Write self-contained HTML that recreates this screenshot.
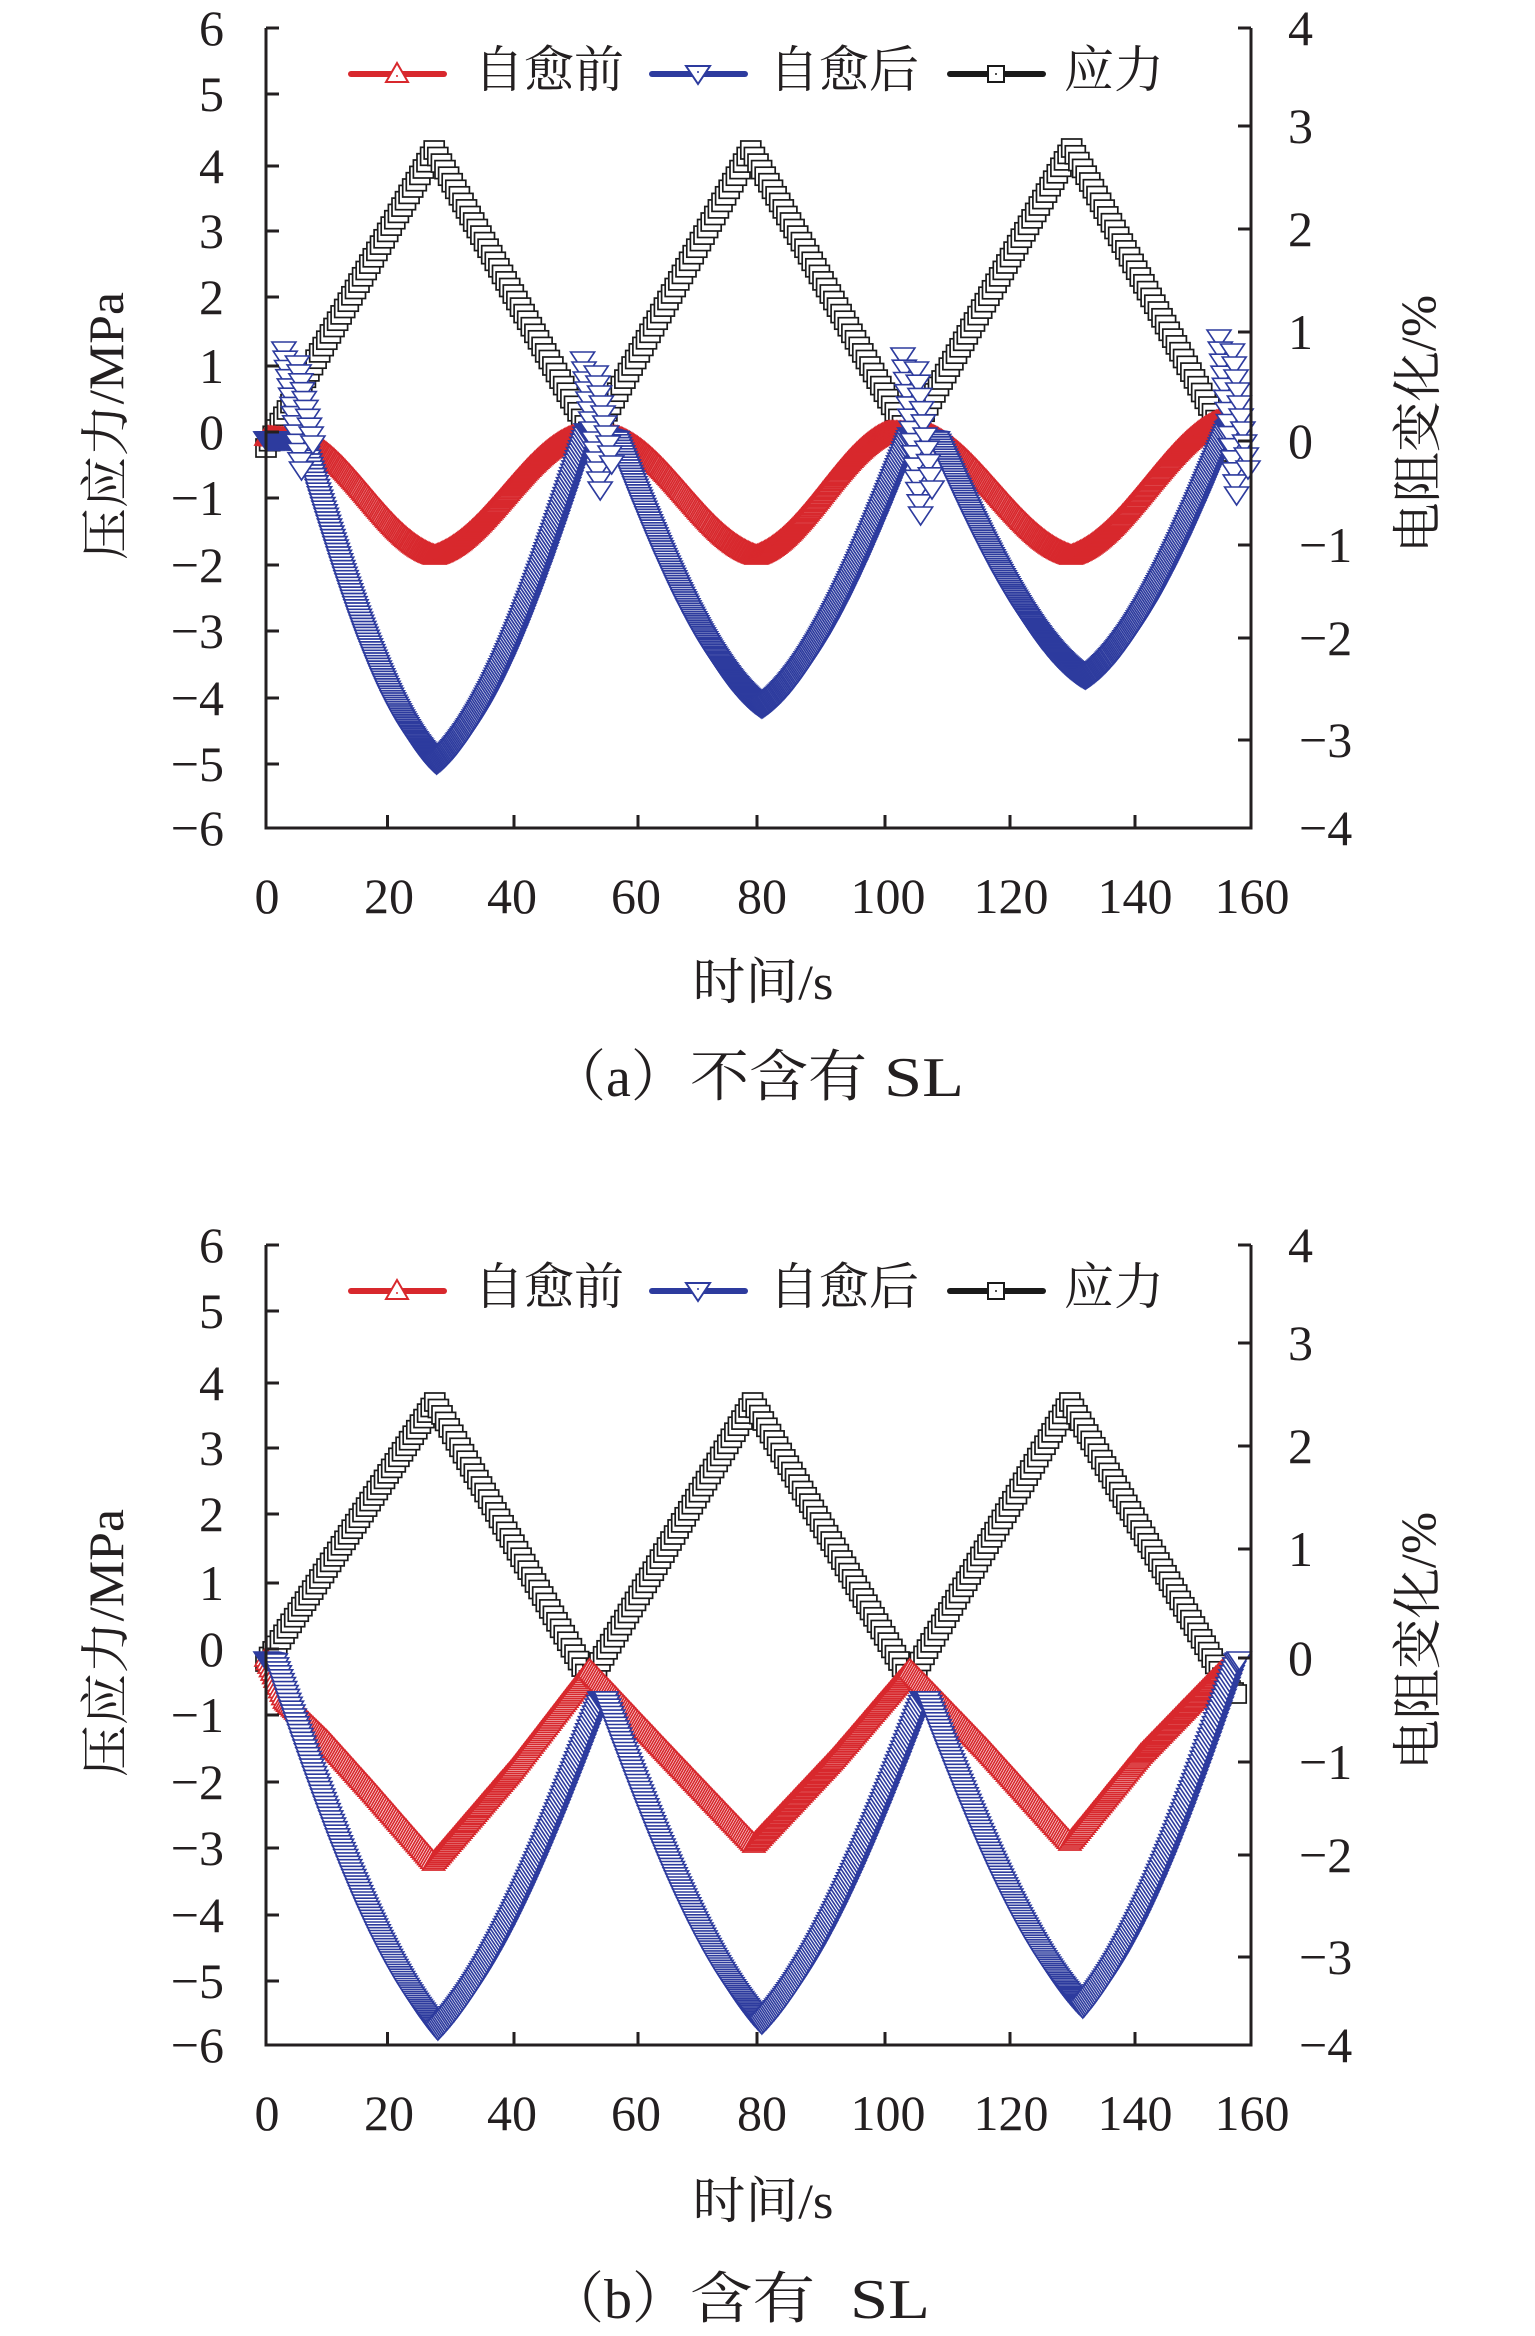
<!DOCTYPE html>
<html><head><meta charset="utf-8">
<style>
html,body{margin:0;padding:0;background:#fff;}
svg{display:block;}
text{font-family:"Liberation Serif","Noto Serif CJK SC",serif;fill:#231f20;}
</style></head>
<body>
<svg id="s" xmlns="http://www.w3.org/2000/svg" width="1535" height="2336" viewBox="0 0 1535 2336">
<rect width="1535" height="2336" fill="#fff"/>
<g id="dataA"></g>
<g id="dataB"></g>

<!-- ============ CHART A ============ -->
<g id="axA">
<path d="M266 28V828H1251V28" fill="none" stroke="#231f20" stroke-width="3"/>
<g stroke="#231f20" stroke-width="3">
<line x1="266" y1="28" x2="279" y2="28"/><line x1="266" y1="94" x2="279" y2="94"/><line x1="266" y1="166" x2="279" y2="166"/><line x1="266" y1="231" x2="279" y2="231"/><line x1="266" y1="297" x2="279" y2="297"/><line x1="266" y1="366" x2="279" y2="366"/><line x1="266" y1="432" x2="279" y2="432"/><line x1="266" y1="498" x2="279" y2="498"/><line x1="266" y1="565" x2="279" y2="565"/><line x1="266" y1="631" x2="279" y2="631"/><line x1="266" y1="698" x2="279" y2="698"/><line x1="266" y1="764" x2="279" y2="764"/>
<line x1="1251" y1="28" x2="1238" y2="28"/><line x1="1251" y1="126" x2="1238" y2="126"/><line x1="1251" y1="229" x2="1238" y2="229"/><line x1="1251" y1="332" x2="1238" y2="332"/><line x1="1251" y1="441" x2="1238" y2="441"/><line x1="1251" y1="545" x2="1238" y2="545"/><line x1="1251" y1="638" x2="1238" y2="638"/><line x1="1251" y1="740" x2="1238" y2="740"/>
<line x1="387.5" y1="828" x2="387.5" y2="815"/><line x1="514" y1="828" x2="514" y2="815"/><line x1="638" y1="828" x2="638" y2="815"/><line x1="757" y1="828" x2="757" y2="815"/><line x1="885" y1="828" x2="885" y2="815"/><line x1="1010" y1="828" x2="1010" y2="815"/><line x1="1135" y1="828" x2="1135" y2="815"/>
</g>
<g font-size="50" text-anchor="end">
<text x="224" y="45">6</text><text x="224" y="111">5</text><text x="224" y="183">4</text><text x="224" y="248">3</text><text x="224" y="314">2</text><text x="224" y="383">1</text><text x="224" y="449">0</text><text x="224" y="515">−1</text><text x="224" y="582">−2</text><text x="224" y="648">−3</text><text x="224" y="715">−4</text><text x="224" y="781">−5</text><text x="224" y="845">−6</text>
</g>
<g font-size="50">
<text x="1288" y="45">4</text><text x="1288" y="143">3</text><text x="1288" y="246">2</text><text x="1288" y="349">1</text><text x="1288" y="458">0</text><text x="1299" y="562">−1</text><text x="1299" y="655">−2</text><text x="1299" y="757">−3</text><text x="1299" y="845">−4</text>
</g>
<g font-size="50" text-anchor="middle">
<text x="267" y="913">0</text><text x="389" y="913">20</text><text x="512" y="913">40</text><text x="636" y="913">60</text><text x="762" y="913">80</text><text x="888" y="913">100</text><text x="1011" y="913">120</text><text x="1135" y="913">140</text><text x="1252" y="913">160</text>
</g>
<text transform="translate(106,426) rotate(-90)" font-size="50" text-anchor="middle" dominant-baseline="central" textLength="268" lengthAdjust="spacingAndGlyphs">压应力/MPa</text>
<text transform="translate(1418,424) rotate(-90)" font-size="50" text-anchor="middle" dominant-baseline="central" textLength="258" lengthAdjust="spacingAndGlyphs">电阻变化/%</text>
<text x="763" y="982" font-size="50" text-anchor="middle" dominant-baseline="central" textLength="141" lengthAdjust="spacingAndGlyphs">时间/s</text>
<g font-size="56" dominant-baseline="central">
<text x="550" y="1078">（a）</text>
<text x="690" y="1078" textLength="177" lengthAdjust="spacingAndGlyphs">不含有</text>
<text x="884" y="1078" textLength="80" lengthAdjust="spacingAndGlyphs">SL</text>
</g>
<!-- legend -->
<line x1="351" y1="74" x2="444" y2="74" stroke="#d8282d" stroke-width="6" stroke-linecap="round"/>
<path d="M397 63l11 19h-22z" fill="#fff" stroke="#d8282d" stroke-width="2"/><circle cx="397" cy="76" r="1" fill="#d8282d"/>
<text x="474" y="70" font-size="50" dominant-baseline="central">自愈前</text>
<line x1="652" y1="74" x2="745" y2="74" stroke="#2d3b9e" stroke-width="6" stroke-linecap="round"/>
<path d="M686 66h24l-12 18z" fill="#fff" stroke="#2d3b9e" stroke-width="2"/><circle cx="698" cy="72" r="1" fill="#2d3b9e"/>
<text x="769" y="70" font-size="50" dominant-baseline="central">自愈后</text>
<line x1="950" y1="74" x2="1043" y2="74" stroke="#1a1a1a" stroke-width="6" stroke-linecap="round"/>
<rect x="988" y="66" width="16" height="16" fill="#fff" stroke="#1a1a1a" stroke-width="2"/><circle cx="996" cy="74" r="1" fill="#1a1a1a"/>
<text x="1064" y="70" font-size="50" dominant-baseline="central">应力</text>
</g>

<!-- ============ CHART B ============ -->
<g id="axB" transform="translate(0,1217)">
<path d="M266 28V828H1251V28" fill="none" stroke="#231f20" stroke-width="3"/>
<g stroke="#231f20" stroke-width="3">
<line x1="266" y1="28" x2="279" y2="28"/><line x1="266" y1="94" x2="279" y2="94"/><line x1="266" y1="166" x2="279" y2="166"/><line x1="266" y1="231" x2="279" y2="231"/><line x1="266" y1="297" x2="279" y2="297"/><line x1="266" y1="366" x2="279" y2="366"/><line x1="266" y1="432" x2="279" y2="432"/><line x1="266" y1="498" x2="279" y2="498"/><line x1="266" y1="565" x2="279" y2="565"/><line x1="266" y1="631" x2="279" y2="631"/><line x1="266" y1="698" x2="279" y2="698"/><line x1="266" y1="764" x2="279" y2="764"/>
<line x1="1251" y1="28" x2="1238" y2="28"/><line x1="1251" y1="126" x2="1238" y2="126"/><line x1="1251" y1="229" x2="1238" y2="229"/><line x1="1251" y1="332" x2="1238" y2="332"/><line x1="1251" y1="441" x2="1238" y2="441"/><line x1="1251" y1="545" x2="1238" y2="545"/><line x1="1251" y1="638" x2="1238" y2="638"/><line x1="1251" y1="740" x2="1238" y2="740"/>
<line x1="387.5" y1="828" x2="387.5" y2="815"/><line x1="514" y1="828" x2="514" y2="815"/><line x1="638" y1="828" x2="638" y2="815"/><line x1="757" y1="828" x2="757" y2="815"/><line x1="885" y1="828" x2="885" y2="815"/><line x1="1010" y1="828" x2="1010" y2="815"/><line x1="1135" y1="828" x2="1135" y2="815"/>
</g>
<g font-size="50" text-anchor="end">
<text x="224" y="45">6</text><text x="224" y="111">5</text><text x="224" y="183">4</text><text x="224" y="248">3</text><text x="224" y="314">2</text><text x="224" y="383">1</text><text x="224" y="449">0</text><text x="224" y="515">−1</text><text x="224" y="582">−2</text><text x="224" y="648">−3</text><text x="224" y="715">−4</text><text x="224" y="781">−5</text><text x="224" y="845">−6</text>
</g>
<g font-size="50">
<text x="1288" y="45">4</text><text x="1288" y="143">3</text><text x="1288" y="246">2</text><text x="1288" y="349">1</text><text x="1288" y="458">0</text><text x="1299" y="562">−1</text><text x="1299" y="655">−2</text><text x="1299" y="757">−3</text><text x="1299" y="845">−4</text>
</g>
<g font-size="50" text-anchor="middle">
<text x="267" y="913">0</text><text x="389" y="913">20</text><text x="512" y="913">40</text><text x="636" y="913">60</text><text x="762" y="913">80</text><text x="888" y="913">100</text><text x="1011" y="913">120</text><text x="1135" y="913">140</text><text x="1252" y="913">160</text>
</g>
<text transform="translate(106,426) rotate(-90)" font-size="50" text-anchor="middle" dominant-baseline="central" textLength="268" lengthAdjust="spacingAndGlyphs">压应力/MPa</text>
<text transform="translate(1418,424) rotate(-90)" font-size="50" text-anchor="middle" dominant-baseline="central" textLength="258" lengthAdjust="spacingAndGlyphs">电阻变化/%</text>
<text x="763" y="984" font-size="50" text-anchor="middle" dominant-baseline="central" textLength="141" lengthAdjust="spacingAndGlyphs">时间/s</text>
<g font-size="56" dominant-baseline="central">
<text x="548" y="1083">（b）</text>
<text x="690" y="1083" textLength="125" lengthAdjust="spacingAndGlyphs">含有</text>
<text x="850" y="1083" textLength="80" lengthAdjust="spacingAndGlyphs">SL</text>
</g>
<line x1="351" y1="74" x2="444" y2="74" stroke="#d8282d" stroke-width="6" stroke-linecap="round"/>
<path d="M397 63l11 19h-22z" fill="#fff" stroke="#d8282d" stroke-width="2"/><circle cx="397" cy="76" r="1" fill="#d8282d"/>
<text x="474" y="70" font-size="50" dominant-baseline="central">自愈前</text>
<line x1="652" y1="74" x2="745" y2="74" stroke="#2d3b9e" stroke-width="6" stroke-linecap="round"/>
<path d="M686 66h24l-12 18z" fill="#fff" stroke="#2d3b9e" stroke-width="2"/><circle cx="698" cy="72" r="1" fill="#2d3b9e"/>
<text x="769" y="70" font-size="50" dominant-baseline="central">自愈后</text>
<line x1="950" y1="74" x2="1043" y2="74" stroke="#1a1a1a" stroke-width="6" stroke-linecap="round"/>
<rect x="988" y="66" width="16" height="16" fill="#fff" stroke="#1a1a1a" stroke-width="2"/><circle cx="996" cy="74" r="1" fill="#1a1a1a"/>
<text x="1064" y="70" font-size="50" dominant-baseline="central">应力</text>
</g>
</svg>
<script>
(function(){
try{
function X(t){return 266+t*6.16;}
function ease(m,u){
  switch(m){
    case 'D': return 0.65*Math.sin(Math.PI*u/2)+0.35*u;
    case 'U': return 0.65*(1-Math.cos(Math.PI*u/2))+0.35*u;
    case 'R': return 0.6*(1-Math.cos(Math.PI*u))/2+0.4*u;
    case 'M': return 0.5*Math.sin(Math.PI*u/2)+0.5*u;
    case 'V': return 0.5*(1-Math.cos(Math.PI*u/2))+0.5*u;
    default: return u;
  }
}
function sample(nodes,dt){
  var pts=[];
  for(var i=0;i<nodes.length-1;i++){
    var a=nodes[i],b=nodes[i+1];
    var n=Math.max(1,Math.round((b[0]-a[0])/dt));
    for(var k=0;k<n;k++){
      var u=k/n;
      pts.push([X(a[0]+(b[0]-a[0])*u), a[1]+(b[1]-a[1])*ease(a[2],u)]);
    }
  }
  var l=nodes[nodes.length-1]; pts.push([X(l[0]),l[1]]);
  return pts;
}
function f(v){return v.toFixed(1);}
function sq(p){return '<rect x="'+f(p[0]-10)+'" y="'+f(p[1]-9)+'" width="20" height="18"/>';}
function tri(p){return '<path d="M'+f(p[0])+' '+f(p[1]-11)+'l11 19h-22z"/>';}
function itri(p){return '<path d="M'+f(p[0]-12)+' '+f(p[1]-8)+'h24l-12 18z"/>';}
function grp(pts,fn,stroke,sw){
  var s='<g fill="#fff" stroke="'+stroke+'" stroke-width="'+sw+'">';
  for(var i=0;i<pts.length;i++) s+=fn(pts[i]);
  return s+'</g>';
}
function cluster(tc,y0,y1){
  var pts=[],k;
  for(k=0;k<=13;k++) pts.push([X(tc-1.6+k*0.22), y0+(y1-y0)*k/13]);
  for(k=0;k<=9;k++) pts.push([X(tc+0.6+k*0.28), y0+14+(y1-y0-40)*k/9]);
  return pts;
}
var BL='#1a1a1a',RD='#d8282d',BU='#2d3b9e';
/* chart A */
var blkA=sample([[0,448,'L'],[27.3,150,'L'],[53,438,'L'],[78.7,150,'L'],[104.5,438,'L'],[130.8,148,'L'],[156,440,'L'],[157.5,458,'L']],0.58);
var redA=sample([[0,437,'L'],[6,440,'R'],[27.4,556,'R'],[50,436,'L'],[57,437,'R'],[79.6,556,'R'],[101,432,'L'],[107,433,'R'],[130.7,556,'R'],[155,420,'L'],[155.5,420,'L']],0.22);
var bluA=sample([[0,440,'L'],[6,440,'D'],[27.7,764,'U'],[52,432,'L'],[57,440,'D'],[80.5,708,'U'],[104.5,436,'L'],[109,440,'D'],[133,679,'U'],[156,430,'L'],[157,425,'L']],0.18);
var clA=[].concat(cluster(4.5,350,470),cluster(53,360,490),cluster(105,356,515),cluster(156.3,338,495));
var sA=grp(blkA,sq,BL,1.7)+grp(redA,tri,RD,1.8)+grp(bluA,itri,BU,1.7)+grp(clA,itri,BU,1.6);
document.getElementById('dataA').insertAdjacentHTML('beforeend',sA);
/* chart B */
var blkB=sample([[0,1662,'L'],[27.4,1402,'L'],[52.5,1680,'L'],[79,1402,'L'],[104.5,1680,'L'],[130.5,1402,'L'],[156.5,1690,'L'],[157.5,1694,'L']],0.58);
var redB=sample([[0,1658,'L'],[3,1700,'L'],[10,1742,'L'],[17,1790,'L'],[27.2,1862,'L'],[40,1770,'L'],[52.5,1670,'L'],[65,1752,'L'],[79.2,1844,'L'],[92,1760,'L'],[104.5,1670,'L'],[117,1750,'L'],[130.5,1842,'L'],[142,1755,'L'],[156,1666,'L'],[156.5,1664,'L']],0.26);
var bluB=sample([[0,1660,'L'],[1.5,1662,'M'],[27.9,2030,'V'],[54.2,1700,'L'],[55.2,1700,'M'],[80.5,2024,'V'],[106.5,1700,'L'],[107.5,1700,'M'],[132.6,2008,'V'],[157.5,1662,'L'],[158,1660,'L']],0.22);
var sB=grp(blkB,sq,BL,1.7)+grp(redB,tri,RD,1.7)+grp(bluB,itri,BU,1.6);
document.getElementById('dataB').insertAdjacentHTML('beforeend',sB);
}catch(e){}
})();
</script>
</body></html>
